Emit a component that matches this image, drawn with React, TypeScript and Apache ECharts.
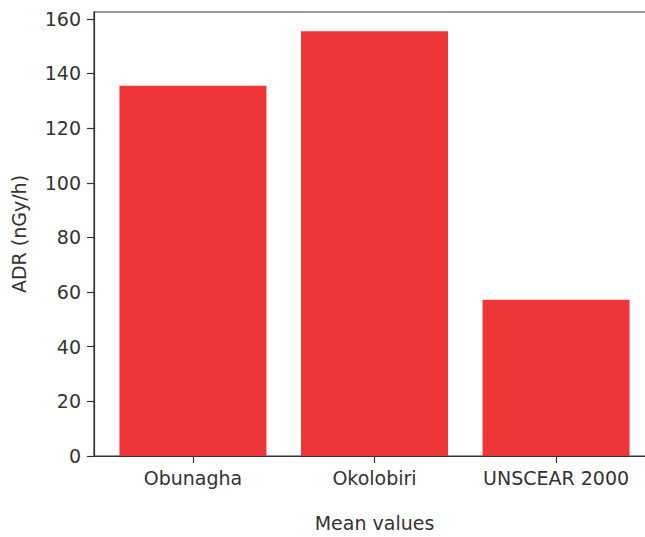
import React, { useEffect, useRef } from "react";
import * as echarts from "echarts";

const categories = ["Obunagha", "Okolobiri", "UNSCEAR 2000"];
const adrValues = [135.5, 155.5, 57.2];
const yTicks = [0, 20, 40, 60, 80, 100, 120, 140, 160];

export default function App() {
  const ref = useRef<HTMLDivElement>(null);
  useEffect(() => {
    if (!ref.current) return;
    const chart = echarts.init(ref.current, undefined, { renderer: "svg" });
    const font = "DejaVu Sans";
    const textColor = "#333333";
    chart.setOption({
      animation: false,
      grid: {
        left: 94,
        top: 12,
        bottom: 81,
        right: 10,
        show: true,
        borderColor: "#333333",
        borderWidth: 1.2,
        backgroundColor: "transparent",
      },
      xAxis: {
        type: "value",
        min: -0.545,
        max: 2.545,
        name: "Mean values",
        nameLocation: "middle",
        nameGap: 57,
        nameTextStyle: { fontFamily: font, fontSize: 19, color: textColor },
        axisLine: { show: true, onZero: false, lineStyle: { color: "#333333", width: 1.2 } },
        axisTick: {
          show: true,
          length: 7,
          customValues: [0, 1, 2],
          lineStyle: { color: "#333333", width: 1.2 },
        },
        axisLabel: {
          customValues: [0, 1, 2],
          margin: 12,
          fontFamily: font,
          fontSize: 19,
          color: textColor,
          formatter: (v: number) => categories[Math.round(v)] ?? "",
        },
        splitLine: { show: false },
      },
      yAxis: {
        type: "value",
        min: 0,
        max: 162.5,
        name: "ADR (nGy/h)",
        nameLocation: "middle",
        nameGap: 66,
        nameTextStyle: { fontFamily: font, fontSize: 19, color: textColor },
        axisLine: { show: true, onZero: false, lineStyle: { color: "#333333", width: 1.2 } },
        axisTick: {
          show: true,
          length: 7,
          customValues: yTicks,
          lineStyle: { color: "#333333", width: 1.2 },
        },
        axisLabel: {
          customValues: yTicks,
          margin: 13,
          fontFamily: font,
          fontSize: 19,
          color: textColor,
        },
        splitLine: { show: false },
      },
      series: [
        {
          type: "bar",
          data: adrValues.map((v, i) => [i, v]),
          barWidth: 147,
          itemStyle: { color: "#EE3538" },
        },
      ],
    });
    return () => chart.dispose();
  }, []);
  return (
    <div style={{ width: 645, height: 537, position: "absolute", left: 0, top: 0, overflow: "hidden" }}>
      <div ref={ref} style={{ width: 665, height: 537, position: "absolute", left: 0, top: 0 }} />
    </div>
  );
}
